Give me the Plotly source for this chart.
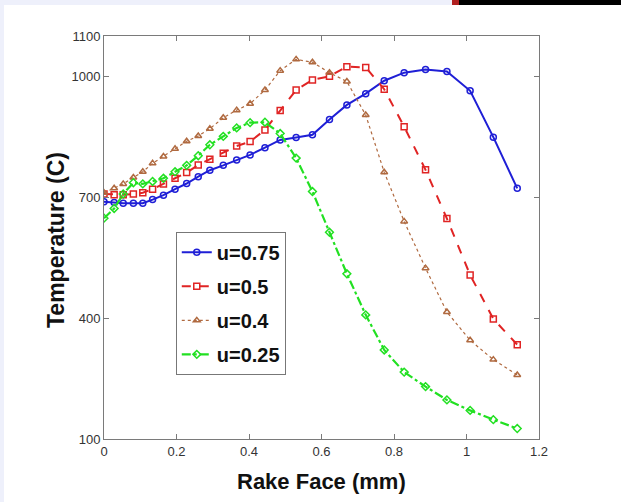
import plotly.graph_objects as go

rake_face = [0, 0.028, 0.053, 0.081, 0.107, 0.134, 0.164, 0.196, 0.228, 0.260, 0.292, 0.329, 0.366,
             0.403, 0.444, 0.486, 0.530, 0.575, 0.622, 0.670, 0.722, 0.773, 0.828, 0.887, 0.946,
             1.010, 1.074, 1.140]
temp_u075 = [689, 687, 685, 685, 685, 694, 705, 720, 734, 751, 767, 779, 792, 805, 823, 842, 848,
             855, 893, 929, 957, 989, 1009, 1017, 1012, 964, 849, 722]
temp_u05 = [708, 706, 706, 708, 711, 720, 733, 747, 761, 780, 794, 809, 827, 838, 867, 915, 966,
            991, 1000, 1024, 1022, 968, 875, 768, 647, 507, 398, 334]
temp_u04 = [711, 722, 733, 749, 763, 784, 801, 820, 839, 852, 870, 897, 916, 932, 966, 1014, 1042,
            1035, 1009, 987, 904, 762, 640, 524, 415, 345, 297, 259]
temp_u025 = [648, 672, 708, 736, 733, 739, 747, 763, 779, 803, 830, 851, 872, 885, 886, 858, 797,
             714, 613, 510, 408, 321, 266, 230, 197, 171, 148, 126]

labels = ["u=0.75", "u=0.5", "u=0.4", "u=0.25"]
x_ticks = [0, 0.2, 0.4, 0.6, 0.8, 1, 1.2]
x_tick_text = ["0", "0.2", "0.4", "0.6", "0.8", "1", "1.2"]
y_ticks = [100, 400, 700, 1000, 1100]
y_tick_text = ["100", "400", "700", "1000", "1100"]

series = [temp_u075, temp_u05, temp_u04, temp_u025]
colors = ["#1f1fd6", "#e02424", "#b06a40", "#22e022"]
dashes = ["solid", "dash", "dot", "dashdot"]
symbols = ["circle-open", "square-open", "triangle-up-open", "diamond-open"]
widths = [2, 2, 1.2, 2.2]

fig = go.Figure()
for name, ys, c, d, s, w in zip(labels, series, colors, dashes, symbols, widths):
    fig.add_trace(go.Scatter(
        x=rake_face, y=ys, name="<b>" + name + "</b>", mode="lines+markers",
        line=dict(color=c, dash=d, width=w),
        marker=dict(symbol=s, size=6, color=c, line=dict(width=1.5, color=c)),
    ))

axis_common = dict(showgrid=False, zeroline=False, showline=True, mirror="ticks",
                   linecolor="#7a7a7a", linewidth=1, ticks="inside", ticklen=5,
                   tickcolor="#7a7a7a",
                   tickfont=dict(family="Liberation Sans Narrow, Liberation Sans, Arial", size=13, color="#333333"))

fig.update_layout(
    width=621, height=502,
    margin=dict(l=104, r=82, t=36, b=63),
    paper_bgcolor="white", plot_bgcolor="white",
    xaxis=dict(range=[0, 1.2], tickvals=x_ticks, ticktext=x_tick_text, **axis_common),
    yaxis=dict(range=[100, 1100], tickvals=y_ticks, ticktext=y_tick_text, **axis_common),
    legend=dict(x=0.165, y=0.514, xanchor="left", yanchor="top",
                bgcolor="white", bordercolor="#777777", borderwidth=1,
                font=dict(family="Liberation Sans, Arial", size=20, color="#111111"),
                itemwidth=30, tracegroupgap=5),
    showlegend=True,
)
for t in fig.data:
    t.legendgroup = t.name

fig.add_annotation(text="<b>Rake Face (mm)</b>", xref="paper", yref="paper",
                   x=(321 - 104) / 435, y=(439 - 481) / 403, xanchor="center", yanchor="middle",
                   showarrow=False, font=dict(family="Liberation Sans, Arial", size=22, color="#111111"))
fig.add_annotation(text="<b>Temperature (C)</b>", xref="paper", yref="paper", textangle=-90,
                   x=(56 - 104) / 435, y=(439 - 240) / 403, xanchor="center", yanchor="middle",
                   showarrow=False, font=dict(family="Liberation Sans, Arial", size=23, color="#111111"))

# decorative frame strips
fig.add_shape(type="rect", xref="paper", yref="paper", x0=-104/435, x1=(452-104)/435,
              y0=1 + 31/403, y1=1 + 36/403, fillcolor="#eef0fb", line_width=0, layer="below")
fig.add_shape(type="rect", xref="paper", yref="paper", x0=-104/435, x1=-100/435,
              y0=-63/403, y1=1 + 36/403, fillcolor="#eef0fb", line_width=0, layer="below")
fig.add_shape(type="rect", xref="paper", yref="paper", x0=(452-104)/435, x1=(459-104)/435,
              y0=1 + 31/403, y1=1 + 36/403, fillcolor="#b02020", line_width=0)
fig.add_shape(type="rect", xref="paper", yref="paper", x0=(459-104)/435, x1=(621-104)/435,
              y0=1 + 31/403, y1=1 + 36/403, fillcolor="#000000", line_width=0)

fig.write_html("out.html")
